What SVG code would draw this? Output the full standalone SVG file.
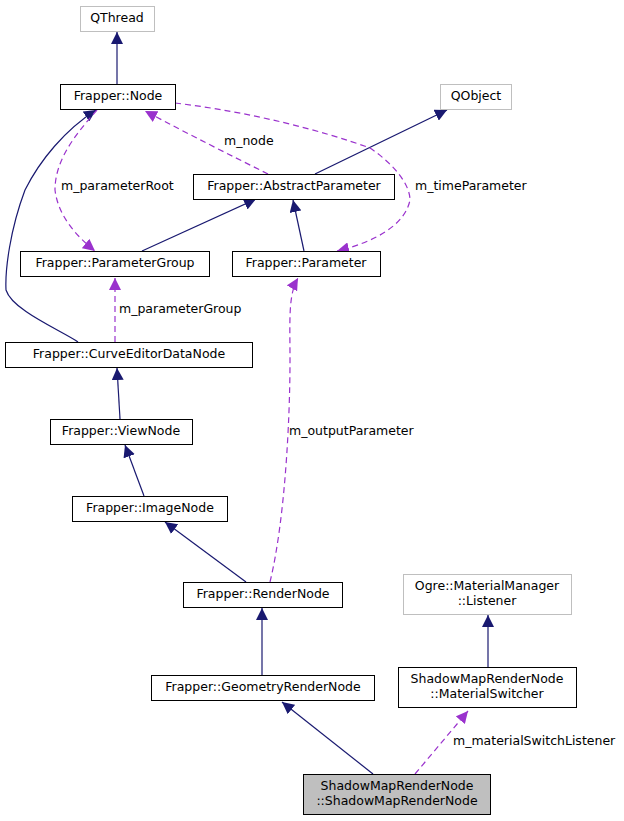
<svg xmlns="http://www.w3.org/2000/svg" width="624" height="821" viewBox="0 0 624 821">
<style>
text{font-family:"DejaVu Sans",sans-serif;font-size:12.5px;fill:#000;text-anchor:middle}
.n{fill:#fff;stroke:#000;stroke-width:1}
.g{fill:#fff;stroke:#bfbfbf;stroke-width:1}
.e{fill:none;stroke:#191970;stroke-width:1.2}
.d{fill:none;stroke:#9a32cd;stroke-width:1.2;stroke-dasharray:6,4}
.lbl{text-anchor:start}
</style>
<defs>
<marker id="ab" viewBox="0 0 10 10" refX="10" refY="5" markerWidth="12" markerHeight="12" markerUnits="userSpaceOnUse" orient="auto"><path d="M0,0L10,5L0,10z" fill="#191970"/></marker>
<marker id="ap" viewBox="0 0 10 10" refX="10" refY="5" markerWidth="12" markerHeight="12" markerUnits="userSpaceOnUse" orient="auto"><path d="M0,0L10,5L0,10z" fill="#9a32cd"/></marker>
</defs>
<rect width="624" height="821" fill="#fff"/>
<g id="connectors">
<path class="e" d="M117,84V32" marker-end="url(#ab)"/>
<path class="e" d="M315,174L447,110" marker-end="url(#ab)"/>
<path class="e" d="M142,251L256,199" marker-end="url(#ab)"/>
<path class="e" d="M304,251L293,200" marker-end="url(#ab)"/>
<path class="e" d="M78,342C60,330 12,310 6,290C5,270 10,230 25,190C40,160 65,130 96,110" marker-end="url(#ab)"/>
<path class="e" d="M120,419L117,368" marker-end="url(#ab)"/>
<path class="e" d="M144,496L125,445" marker-end="url(#ab)"/>
<path class="e" d="M246,582L165,522" marker-end="url(#ab)"/>
<path class="e" d="M262,675V608" marker-end="url(#ab)"/>
<path class="e" d="M373,774L282,702" marker-end="url(#ab)"/>
<path class="e" d="M488,667V615" marker-end="url(#ab)"/>
<path class="d" d="M268,174C230,155 190,135 145,111" marker-end="url(#ap)"/>
<path class="d" d="M97,110C75,135 55,160 55,190C58,215 75,235 95,251" marker-end="url(#ap)"/>
<path class="d" d="M175,103C250,112 320,130 370,148C395,165 410,185 410,200C405,225 375,242 337,251" marker-end="url(#ap)"/>
<path class="d" d="M115,342V278" marker-end="url(#ap)"/>
<path class="d" d="M270,582C285,520 290,420 290,360C290,320 288,295 298,278" marker-end="url(#ap)"/>
<path class="d" d="M415,774L468,711" marker-end="url(#ap)"/>
<text class="lbl" x="224" y="145">m_node</text>
<text class="lbl" x="61" y="190">m_parameterRoot</text>
<text class="lbl" x="415" y="190">m_timeParameter</text>
<text class="lbl" x="119" y="313">m_parameterGroup</text>
<text class="lbl" x="289" y="435">m_outputParameter</text>
<text class="lbl" x="453" y="745">m_materialSwitchListener</text>
</g>
<g id="QThread"><rect class="g" x="80.5" y="6.5" width="74" height="25"/><text x="117" y="22">QThread</text></g>
<g id="Node"><rect class="n" x="60.5" y="84.5" width="115" height="25"/><text x="118" y="100">Frapper::Node</text></g>
<g id="QObject"><rect class="g" x="440.5" y="84.5" width="71" height="25"/><text x="476" y="100">QObject</text></g>
<g id="AbstractParameter"><rect class="n" x="193.5" y="174.5" width="201" height="25"/><text x="294" y="190">Frapper::AbstractParameter</text></g>
<g id="ParameterGroup"><rect class="n" x="20.5" y="251.5" width="189" height="25"/><text x="115" y="267">Frapper::ParameterGroup</text></g>
<g id="Parameter"><rect class="n" x="232.5" y="251.5" width="148" height="25"/><text x="306" y="267">Frapper::Parameter</text></g>
<g id="CurveEditorDataNode"><rect class="n" x="5.5" y="342.5" width="247" height="25"/><text x="129" y="358">Frapper::CurveEditorDataNode</text></g>
<g id="ViewNode"><rect class="n" x="50.5" y="419.5" width="142" height="25"/><text x="121" y="435">Frapper::ViewNode</text></g>
<g id="ImageNode"><rect class="n" x="72.5" y="496.5" width="155" height="25"/><text x="150" y="512">Frapper::ImageNode</text></g>
<g id="RenderNode"><rect class="n" x="183.5" y="582.5" width="159" height="25"/><text x="263" y="598">Frapper::RenderNode</text></g>
<g id="GeometryRenderNode"><rect class="n" x="151.5" y="675.5" width="223" height="25"/><text x="263" y="691">Frapper::GeometryRenderNode</text></g>
<g id="Listener"><rect class="g" x="403.5" y="574.5" width="168" height="40"/><text x="487" y="590">Ogre::MaterialManager</text><text x="487" y="605">::Listener</text></g>
<g id="MaterialSwitcher"><rect class="n" x="398.5" y="667.5" width="178" height="40"/><text x="487" y="683">ShadowMapRenderNode</text><text x="487" y="698">::MaterialSwitcher</text></g>
<g id="ShadowMapRenderNode"><rect x="303.5" y="774.5" width="187" height="40" fill="#bfbfbf" stroke="#000"/><text x="397" y="790">ShadowMapRenderNode</text><text x="397" y="805">::ShadowMapRenderNode</text></g>
</svg>
